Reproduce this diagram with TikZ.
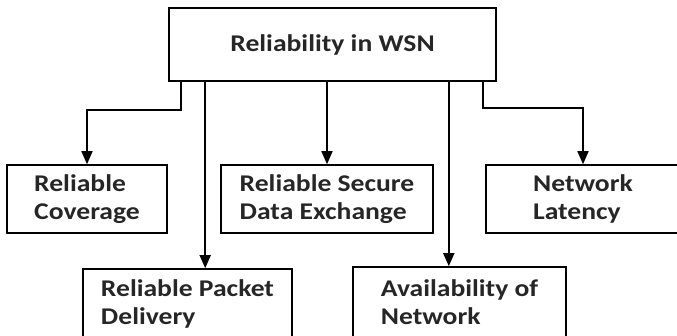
\documentclass[tikz,border=0pt]{standalone}
\usepackage{fontspec}
\setmainfont{Carlito}[FakeStretch=1.15]
\usetikzlibrary{arrows.meta}
\begin{document}
\begin{tikzpicture}[x=1pt, y=-1pt, line width=1.6pt,
        box/.style={draw, align=left, inner sep=0pt, text=black!85, font=\bfseries\fontsize{24}{28}\selectfont},
        arr/.style={-{Triangle[width=11pt, length=13pt]}}]
        \useasboundingbox (0, 0) rectangle (677, 335);
        \node [box, minimum width=327pt, minimum height=73pt] (wsn) at (332.5, 44.5) {Reliability in WSN};
        \node [box, minimum width=160pt, minimum height=68pt] (coverage) at (87, 199) {Reliable\\Coverage};
        \node [box, minimum width=212pt, minimum height=68pt] (secure) at (327, 199) {Reliable Secure\\Data Exchange};
        \node [box, minimum width=194pt, minimum height=68pt] (latency) at (583, 199) {Network\\Latency};
        \node [box, minimum width=209pt, minimum height=70pt] (packet) at (187.5, 304) {Reliable Packet\\Delivery};
        \node [box, minimum width=213pt, minimum height=70pt] (avail) at (459.5, 302) {Availability of\\Network};
        \coordinate (s1) at ([xshift=37pt]wsn.south west);
        \coordinate (s2) at ([xshift=-48pt]wsn.south east);
        \draw [arr] ([xshift=13pt]wsn.south west) |- ([yshift=54pt]coverage.north) -- (coverage.north);
        \draw [arr] (s1) -- (s1 |- packet.north);
        \draw [arr] (wsn.south -| secure.north) -- (secure.north);
        \draw [arr] (s2) -- (s2 |- avail.north);
        \draw [arr] ([xshift=-14pt]wsn.south east) |- ([yshift=56pt]latency.north) -- (latency.north);
\end{tikzpicture}
\end{document}
